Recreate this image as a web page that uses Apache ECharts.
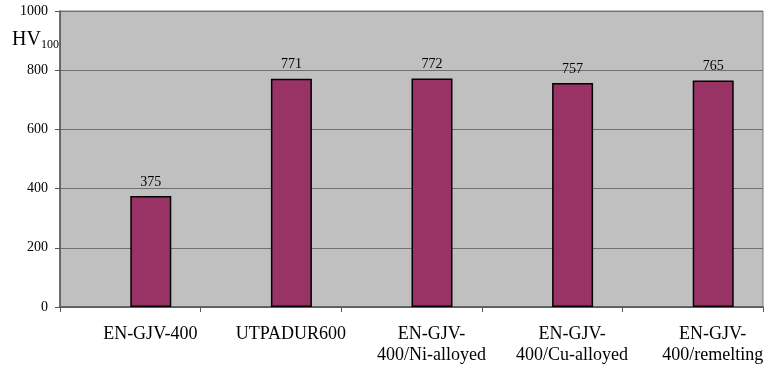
<!DOCTYPE html>
<html>
<head>
<meta charset="utf-8">
<script src="https://cdn.jsdelivr.net/npm/echarts@6/dist/echarts.min.js"></script>
<style>html,body{margin:0;padding:0;background:#fff;}#c{width:768px;height:368px;}</style>
</head>
<body>
<div id="c"></div>
<script>
var categories = ['EN-GJV-400', 'UTPADUR600', 'EN-GJV-\n400/Ni-alloyed', 'EN-GJV-\n400/Cu-alloyed', 'EN-GJV-\n400/remelting'];
var hardness = [375, 771, 772, 757, 765];
var placeholder = ['-', '-', '-', '-', '-'];
var yTicks = [0, 200, 400, 600, 800, 1000];

var font = 'Liberation Serif';
var chart = echarts.init(document.getElementById('c'), null, {renderer: 'canvas'});
chart.setOption({
  animation: false,
  backgroundColor: '#ffffff',
  grid: {left: 60, right: 5, top: 11, bottom: 61, show: true, backgroundColor: '#C0C0C0', borderColor: '#7a7a7a', borderWidth: 1},
  xAxis: {
    type: 'category',
    data: categories,
    axisLine: {lineStyle: {color: '#555', width: 1.5}},
    axisTick: {show: true, length: 5, lineStyle: {color: '#555'}},
    axisLabel: {
      fontFamily: font, fontSize: 18, color: '#000', margin: 17, lineHeight: 21,
      padding: [0, 0, 0, 40], interval: 0
    }
  },
  yAxis: {
    type: 'value', min: yTicks[0], max: yTicks[yTicks.length - 1], interval: 200,
    axisLine: {show: true, lineStyle: {color: '#555', width: 1.5}},
    axisTick: {show: true, length: 5, lineStyle: {color: '#555'}},
    axisLabel: {fontFamily: font, fontSize: 14, color: '#000', margin: 12, formatter: function (v) { return String(v); }},
    splitLine: {lineStyle: {color: '#707070', width: 1}}
  },
  graphic: [{
    type: 'text', left: 12, top: 30,
    style: {
      text: '{a|HV}{b|100}',
      rich: {
        a: {fontFamily: font, fontSize: 20, fill: '#000'},
        b: {fontFamily: font, fontSize: 12, fill: '#000', padding: [10, 0, 0, 0]}
      }
    }
  }],
  series: [
    {type: 'bar', data: placeholder, barWidth: 41, barGap: '0%', silent: true},
    {
      type: 'bar', data: hardness, barWidth: 41, barGap: '0%',
      itemStyle: {color: '#993366', borderColor: '#000', borderWidth: 1.5},
      label: {show: true, position: 'top', distance: 7, fontFamily: font, fontSize: 14, color: '#000'}
    }
  ]
});
</script>
</body>
</html>
